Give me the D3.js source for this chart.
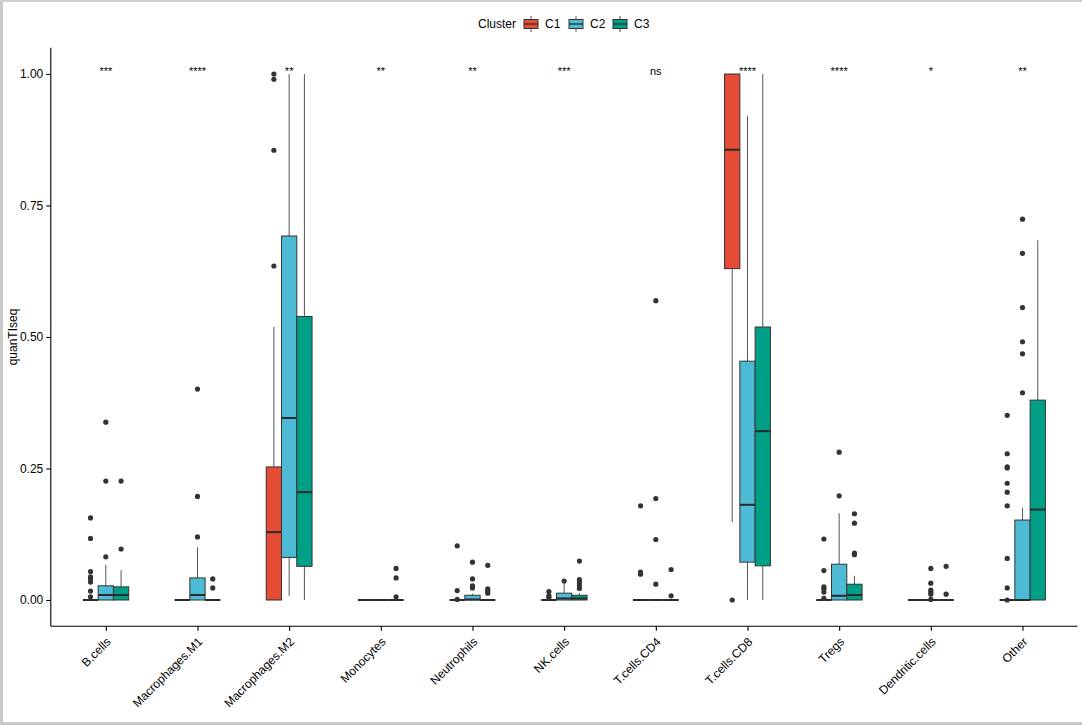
<!DOCTYPE html>
<html><head><meta charset="utf-8">
<script src="https://cdn.jsdelivr.net/npm/d3@7"></script>
<style>body{margin:0;background:#fff} text{font-family:"Liberation Sans",Arial,Helvetica,sans-serif}</style>
</head><body><svg id="c" width="1082" height="725"></svg>
<script>
const categories = ["B.cells","Macrophages.M1","Macrophages.M2","Monocytes","Neutrophils","NK.cells","T.cells.CD4","T.cells.CD8","Tregs","Dendritic.cells","Other"];
const clusters = ["C1","C2","C3"];
const clusterColors = ["#E64B35","#4DBBD5","#00A087"];
const signif = ["***","****","**","**","**","***","ns","****","****","*","**"];
const yTicks = [0, 0.25, 0.5, 0.75, 1];
// [lowerWhisker, q1, median, q3, upperWhisker] per category
const c1Stats = [[0,0,0,0,0],[0,0,0,0,0],[0,0,0.129,0.253,0.519],[0,0,0,0,0],[0,0,0,0,0],[0,0,0,0,0],[0,0,0,0,0],[0.148,0.63,0.856,1.0,1.0],[0,0,0,0,0],[0,0,0,0,0],[0,0,0,0,0]];
const c2Stats = [[0,0,0.0095,0.027,0.067],[0,0,0.0095,0.042,0.10],[0.008,0.081,0.346,0.692,1.0],[0,0,0,0,0],[0,0,0.001,0.009,0.012],[0,0,0.003,0.013,0.03],[0,0,0,0,0],[0,0.072,0.181,0.454,0.92],[0,0,0.008,0.068,0.165],[0,0,0,0,0],[0,0,0,0.152,0.175]];
const c3Stats = [[0,0,0.0095,0.025,0.057],[0,0,0,0,0],[0,0.064,0.205,0.539,1.0],[0,0,0,0,0],[0,0,0,0,0],[0,0,0.003,0.009,0.013],[0,0,0,0,0],[0,0.065,0.321,0.519,1.0],[0,0,0.0095,0.030,0.046],[0,0,0,0,0],[0,0,0.172,0.380,0.684]];
const c1Out = [[0.156,0.117,0.054,0.044,0.040,0.034,0.017,0.006],[],[1.0,0.99,0.855,0.635],[],[0.103,0.018,0.001],[0.016,0.008,0.005],[0.179,0.053,0.049],[0.0],[0.116,0.056,0.025,0.021,0.015,0.003],[],[0.351,0.278,0.253,0.251,0.222,0.205,0.179,0.079,0.023,0]];
const c2Out = [[0.338,0.226,0.082],[0.401,0.197,0.12],[],[],[0.072,0.040,0.027,0.023],[0.036],[0.569,0.193,0.115,0.030],[],[0.281,0.198],[0.060,0.032,0.019,0.015,0.011,0.001],[0.724,0.659,0.556,0.491,0.468,0.394]];
const c3Out = [[0.226,0.097],[0.040,0.023],[],[0.060,0.042,0.006],[0.066,0.021,0.017,0.013],[0.074,0.039,0.033,0.027,0.022],[0.058,0.008],[],[0.164,0.146,0.089,0.086],[0.064,0.011],[]];

const stats = [c1Stats, c2Stats, c3Stats];
const outs = [c1Out, c2Out, c3Out];

const svg = d3.select("#c");
svg.append("rect").attr("x",0).attr("y",0).attr("width",1082).attr("height",725).attr("fill","#fff");
svg.append("rect").attr("x",0).attr("y",0).attr("width",3).attr("height",725).attr("fill","#c8c8c8");
svg.append("rect").attr("x",0).attr("y",0).attr("width",1082).attr("height",2).attr("fill","#d0d0d0");
svg.append("rect").attr("x",0).attr("y",722).attr("width",1082).attr("height",3).attr("fill","#c8c8c8");

const pLeft = 50.8, pRight = 1077.5, pTop = 47.7, pBottom = 626.3;
const x = d3.scalePoint().domain(categories).range([pLeft, pRight]).padding(0.6);
const y = d3.scaleLinear().domain([-0.05, 1.05]).range([pBottom, pTop]);
const step = x.step();
const dodge = d3.scaleBand().domain(clusters).range([-step*0.25, step*0.25]).padding(0);
const bw = dodge.bandwidth();

const g = svg.append("g");
clusters.forEach((cl, ci) => {
  categories.forEach((cat, i) => {
    const s = stats[ci][i];
    const cx = x(cat) + dodge(cl) + bw/2;
    const grp = g.append("g");
    grp.append("line").attr("x1",cx).attr("x2",cx).attr("y1",y(s[3])).attr("y2",y(s[4])).attr("stroke","#555").attr("stroke-width",1);
    grp.append("line").attr("x1",cx).attr("x2",cx).attr("y1",y(s[1])).attr("y2",y(s[0])).attr("stroke","#555").attr("stroke-width",1);
    grp.append("rect").attr("x",cx-bw/2).attr("width",bw).attr("y",y(s[3])).attr("height",Math.max(0,y(s[1])-y(s[3])))
      .attr("fill",clusterColors[ci]).attr("stroke","#333").attr("stroke-width",1);
    grp.append("line").attr("x1",cx-bw/2).attr("x2",cx+bw/2).attr("y1",y(s[2])).attr("y2",y(s[2])).attr("stroke","#2a2a2a").attr("stroke-width",2);
    outs[ci][i].forEach(v => {
      grp.append("circle").attr("cx",cx).attr("cy",y(v)).attr("r",2.6).attr("fill","#333");
    });
  });
});

svg.append("g").selectAll("text").data(categories).join("text")
  .attr("x", d => x(d)).attr("y", 75).attr("text-anchor","middle")
  .attr("font-size", 11).attr("fill","#000").text((d,i) => signif[i]);

const yAxis = d3.axisLeft(y).tickValues(yTicks).tickFormat(d3.format(".2f")).tickSize(4.5).tickPadding(3);
const ya = svg.append("g").attr("transform",`translate(${pLeft},0)`).call(yAxis);
ya.select(".domain").attr("d",`M0,${pTop}V${pBottom}`).attr("stroke","#000").attr("stroke-width",1.1);
ya.selectAll(".tick line").attr("stroke","#000").attr("stroke-width",1.1);
ya.selectAll(".tick text").attr("font-size",12).attr("fill","#000").attr("font-family","Liberation Sans, Arial, sans-serif");

const xAxis = d3.axisBottom(x).tickSize(4.5).tickFormat(d => d);
const xa = svg.append("g").attr("transform",`translate(0,${pBottom})`).call(xAxis);
xa.select(".domain").attr("d",`M${pLeft},0H${pRight}`).attr("stroke","#000").attr("stroke-width",1.1);
xa.selectAll(".tick line").attr("stroke","#000").attr("stroke-width",1.1);
xa.selectAll(".tick text").attr("font-size",12).attr("fill","#000").attr("font-family","Liberation Sans, Arial, sans-serif")
  .attr("text-anchor","end").attr("y",0).attr("dy",0)
  .attr("transform","translate(3,14) rotate(-45)").attr("dominant-baseline","middle");

svg.append("text").attr("transform","translate(17,337) rotate(-90)").attr("text-anchor","middle")
  .attr("font-size",12).attr("fill","#000").text("quanTIseq");

const lg = svg.append("g");
lg.append("text").attr("x",478).attr("y",28).attr("font-size",12).attr("fill","#000").text("Cluster");
const keyX = [524, 569, 613];
clusters.forEach((cl, ci) => {
  const kx = keyX[ci];
  lg.append("line").attr("x1",kx+7).attr("x2",kx+7).attr("y1",16).attr("y2",32).attr("stroke","#555");
  lg.append("rect").attr("x",kx).attr("y",19.5).attr("width",14).attr("height",9).attr("fill",clusterColors[ci]).attr("stroke","#333");
  lg.append("line").attr("x1",kx).attr("x2",kx+14).attr("y1",24).attr("y2",24).attr("stroke","#2a2a2a").attr("stroke-width",1.2);
  lg.append("text").attr("x",kx+21).attr("y",28).attr("font-size",12).attr("fill","#000").text(cl);
});
</script></body></html>
